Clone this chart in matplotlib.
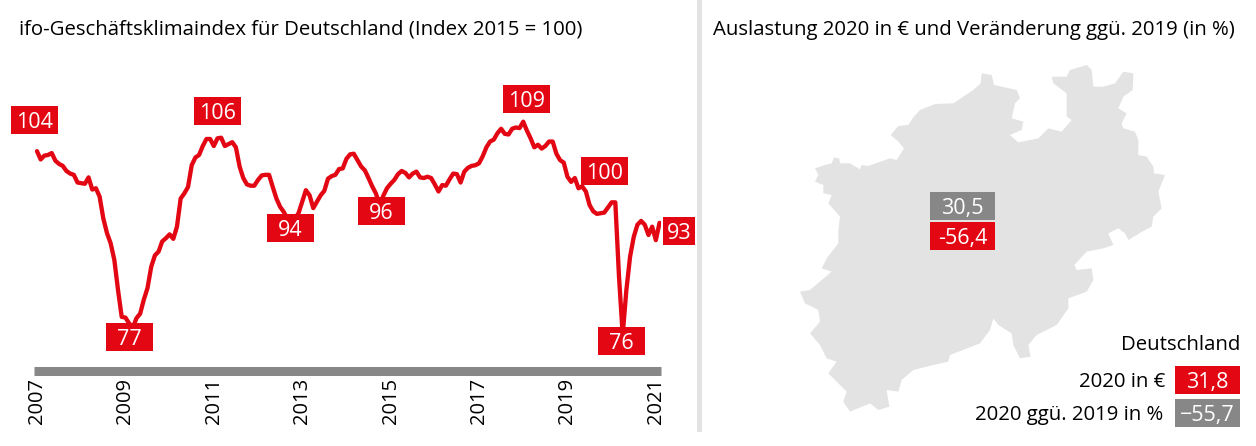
import matplotlib
matplotlib.use("Agg")
import matplotlib.pyplot as plt
from matplotlib.patches import Polygon, Rectangle

W, H = 1256, 446
RED = "#e30613"
GREY = "#878787"
LIGHT = "#e3e3e3"
plt.rcParams["font.family"] = ["Open Sans", "DejaVu Sans"]

# ifo index, monthly from Jan 2007
ifo_values = [
    104.6, 103.3, 103.9, 104.0, 104.3, 103.1, 102.6, 102.3, 101.5, 101.1, 100.9, 99.7,
    99.6, 99.5, 100.5, 98.6, 98.8, 97.5, 94.1, 91.8, 90.2, 87.6, 82.9, 78.7,
    78.6, 77.7, 77.0, 78.5, 79.2, 81.4, 83.2, 86.5, 88.3, 88.9, 90.5, 91.0,
    91.6, 90.9, 92.8, 97.2, 98.0, 99.0, 102.4, 103.6, 104.0, 105.4, 106.5, 106.5,
    105.4, 106.6, 106.7, 105.4, 105.7, 106.0, 105.2, 102.2, 100.4, 99.4, 99.2, 99.2,
    100.1, 100.8, 100.9, 100.9, 99.0, 97.2, 95.9, 95.1, 94.0, 93.9, 94.1, 94.9,
    96.7, 98.5, 97.7, 95.7, 96.7, 97.7, 98.4, 100.3, 100.7, 100.9, 101.8, 101.9,
    103.4, 104.1, 104.2, 103.2, 102.2, 101.6, 100.4, 99.1, 98.0, 96.2, 97.6, 98.8,
    99.5, 100.1, 101.0, 101.5, 101.2, 100.5, 101.1, 101.4, 100.5, 100.4, 100.6, 100.4,
    99.4, 98.3, 99.3, 99.2, 100.2, 101.1, 101.0, 99.7, 101.4, 102.0, 102.3, 102.4,
    102.7, 103.8, 105.2, 106.1, 106.4, 107.4, 108.1, 107.3, 107.2, 108.1, 108.3, 108.2,
    109.2, 107.8, 106.6, 105.2, 105.6, 105.0, 105.4, 106.1, 106.1, 104.2, 103.2, 102.8,
    100.6, 99.8, 100.4, 98.8, 99.1, 98.3, 96.2, 95.2, 94.8, 94.9, 95.0, 95.8,
    96.6, 96.6, 85.0, 75.9, 82.9, 88.1, 91.2, 93.1, 93.7, 93.1, 91.5, 92.8,
    90.7, 93.4,
]
year_labels = ["2007", "2009", "2011", "2013", "2015", "2017", "2019", "2021"]
year_months = [0, 24, 48, 72, 96, 120, 144, 168]

# value labels: text, box left, box top, box width
line_labels = [
    ("104", 11, 106, 47), ("106", 194, 97, 47), ("77", 106, 323, 47),
    ("94", 267, 214, 47), ("96", 358, 197, 47), ("109", 503, 85, 47),
    ("100", 581, 157, 47), ("76", 598, 327, 47), ("93", 663, 217, 32),
]

map_top = [
    (75, 325), (105, 315), (125, 310), (132, 292), (148, 296), (150, 310), (180, 310), (210, 328),
    (215, 315), (235, 318), (300, 295), (320, 300), (342, 265), (325, 245), (302, 225), (325, 198),
    (355, 195), (370, 172), (390, 150), (435, 132), (490, 130), (550, 90), (572, 70), (575, 40),
    (605, 45), (612, 75), (680, 90), (690, 115), (675, 130), (665, 175), (700, 185), (695, 210),
    (660, 225), (685, 247), (745, 235), (775, 205), (815, 215), (845, 180), (830, 170), (830, 100),
    (790, 70), (785, 50), (830, 50), (840, 30), (890, 15), (905, 30), (910, 80), (940, 80),
    (975, 70), (1000, 35), (1030, 40), (1028, 90), (1000, 110), (985, 145), (1010, 160), (995, 190),
    (1000, 205), (1035, 215), (1045, 240), (1045, 285), (1070, 290), (1090, 320), (1092, 340),
    (1125, 345), (1105, 395), (1115, 445), (1090, 470), (1085, 500),
]
map_bottom = [
    (1065, 0), (1040, 15), (1015, 30), (1005, 10), (985, -5), (955, 10), (970, 45), (940, 55),
    (890, 65), (853, 105), (860, 120), (905, 115), (910, 150), (890, 185), (835, 205), (835, 235),
    (800, 285), (740, 315), (715, 345), (722, 380), (690, 385), (670, 345), (665, 310), (625, 285),
    (610, 265), (600, 300), (570, 340), (480, 375), (475, 395), (430, 405), (370, 420), (335, 450),
    (325, 485), (290, 480), (298, 530), (265, 540), (240, 520), (180, 545), (160, 515), (170, 485),
    (135, 450), (115, 430), (140, 395), (110, 385), (90, 345), (60, 310), (90, 275), (85, 240),
    (45, 220), (30, 185), (60, 180), (125, 125), (95, 115), (110, 85), (145, 40), (145, 0),
]
map_top_end = [(150, 470), (115, 430), (125, 405), (100, 400), (100, 375), (75, 365), (85, 345)]

fig = plt.figure(figsize=(W / 100, H / 100), dpi=100)

# line chart, axes placed in pixels
left, right, top, bottom = 34, 661, 60, 370.5
ax = fig.add_axes([left / W, 1 - bottom / H, (right - left) / W, (bottom - top) / H])
ax.plot(range(len(ifo_values)), ifo_values, color=RED, lw=3.1,
        solid_joinstyle="round", solid_capstyle="round")
ax.set_xlim(-0.81, 169.4)
ax.set_ylim(70.33, 118.84)
for s in ["top", "left", "right"]:
    ax.spines[s].set_visible(False)
ax.spines["bottom"].set_linewidth(6.5)
ax.spines["bottom"].set_color(GREY)
ax.spines["bottom"].set_capstyle("butt")
ax.set_yticks([])
ax.set_xticks(year_months)
ax.set_xticklabels(year_labels, rotation=90, fontsize=14.5, color="black")
ax.tick_params(axis="x", length=0, pad=5.5)
ax.patch.set_visible(False)

# overlay in pixel coordinates for labels and map
ov = fig.add_axes([0, 0, 1, 1])
ov.set_xlim(0, W)
ov.set_ylim(H, 0)
ov.axis("off")
ov.patch.set_visible(False)

ov.add_patch(Rectangle((697, 0), 5, 432, color=LIGHT, lw=0))

pts = ([(790 + x / 3, 60 + y / 3) for x, y in map_top]
       + [(790 + x / 3, 230 + y / 3) for x, y in map_bottom]
       + [(790 + x / 3, 60 + y / 3) for x, y in map_top_end])
ov.add_patch(Polygon(pts, closed=True, color=LIGHT, lw=0))


def box_label(text, x, y, w, h=28, color=RED, size=15.5):
    ov.add_patch(Rectangle((x, y), w, h, color=color, lw=0))
    ov.text(x + w / 2, y + h / 2, text, color="white", fontsize=size,
            ha="center", va="center_baseline")


for text, x, y, w in line_labels:
    box_label(text, x, y, w)

box_label("30,5", 930, 192, 65, color=GREY)
box_label("-56,4", 930, 222, 65)
box_label("31,8", 1175, 366, 65)
box_label("\u221255,7", 1175, 399, 65, color=GREY)

TEXT = 14.7
ov.text(19, 30, "ifo-Geschäftsklimaindex für Deutschland (Index 2015 = 100)",
        fontsize=TEXT, va="center", color="black")
ov.text(713, 30, "Auslastung 2020 in € und Veränderung ggü. 2019 (in %)",
        fontsize=TEXT, va="center", color="black")
ov.text(1240, 345, "Deutschland", fontsize=TEXT, ha="right", va="center", color="black")
ov.text(1165, 382, "2020 in €", fontsize=TEXT, ha="right", va="center", color="black")
ov.text(1163, 415, "2020 ggü. 2019 in %", fontsize=TEXT, ha="right", va="center", color="black")

fig.savefig("out.png", dpi=100)
